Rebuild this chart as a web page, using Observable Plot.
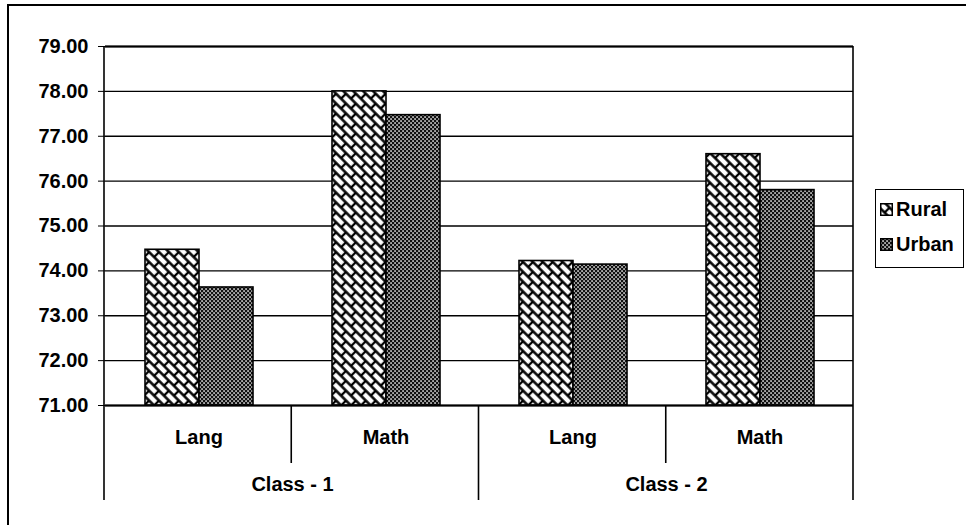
<!DOCTYPE html>
<html><head><meta charset="utf-8">
<script src="https://cdn.jsdelivr.net/npm/d3@7"></script>
<script src="https://cdn.jsdelivr.net/npm/@observablehq/plot@0.6"></script>
<style>
body{margin:0;background:#fff;}
#wrap{position:relative;width:966px;height:525px;overflow:hidden;font-family:"Liberation Sans",Arial,sans-serif;}
#wrap > svg{position:absolute;left:0;top:0;}
#border{position:absolute;left:7px;top:4px;right:-10px;bottom:-10px;border-left:2px solid #000;border-top:2px solid #000;pointer-events:none;}
#legend{position:absolute;left:875px;top:189px;width:89px;height:79px;border:1.5px solid #000;box-sizing:border-box;font-weight:bold;font-size:20px;background:#fff;}
.item{position:absolute;left:4px;height:24px;display:flex;align-items:center;gap:3px;}
.item svg{display:block;}
</style></head>
<body><div id="wrap"><div id="border"></div></div>
<script>
const subjects = ["Lang", "Math", "Lang", "Math"];
const classes = ["Class - 1", "Class - 1", "Class - 2", "Class - 2"];
const series = ["Rural", "Urban"];
const rural = [74.47, 78.00, 74.22, 76.60];
const urban = [73.63, 77.47, 74.14, 75.80];
const yTicks = [71, 72, 73, 74, 75, 76, 77, 78, 79];
const classNames = ["Class - 1", "Class - 2"];

const W = 966, H = 525, mL = 104, mR = 113, mT = 46, mB = 120;
const yMin = yTicks[0], yMax = yTicks[yTicks.length - 1];

const groupKeys = subjects.map((s, i) => classes[i] + "|" + s);
const data = [];
groupKeys.forEach((g, i) => {
  data.push({group: g, series: "Rural", value: rural[i]});
  data.push({group: g, series: "Urban", value: urban[i]});
});
const classFirst = classNames.map(c => groupKeys[classes.indexOf(c)]);

const plot = Plot.plot({
  width: W, height: H,
  marginLeft: mL, marginRight: mR, marginTop: mT, marginBottom: mB,
  style: {fontFamily: '"Liberation Sans", Arial, sans-serif', fontSize: "20px", fontWeight: "bold", color: "#000", background: "transparent", overflow: "visible"},
  fx: {domain: groupKeys, padding: 0, label: null, tickSize: 0, tickPadding: 24, tickFormat: k => k.split("|")[1]},
  x: {domain: series, paddingInner: 0, paddingOuter: 0.72, axis: null},
  y: {domain: [yMin, yMax], ticks: yTicks, tickFormat: d => d.toFixed(2), tickSize: 7, tickPadding: 10, label: null},
  color: {type: "ordinal", domain: series, range: ["url(#rural)", "url(#urban)"]},
  marks: [
    Plot.ruleY(yTicks, {stroke: "#000", strokeWidth: 1.4}),
    Plot.barY(data, {fx: "group", x: "series", y1: yMin, y2: "value", fill: "series", stroke: "#000", strokeWidth: 1.6}),
    Plot.ruleY([yMin, yMax], {stroke: "#000", strokeWidth: 2}),
    Plot.text(classNames, {fx: (d, i) => classFirst[i], frameAnchor: "bottom-right", textAnchor: "middle", dy: 85, text: d => d, fontSize: 20, fontWeight: "bold", fill: "#000"})
  ]
});

// patterns
const svg = d3.select(plot);
const defs = svg.insert("defs", ":first-child");
const pr = defs.append("pattern").attr("id", "rural").attr("patternUnits", "userSpaceOnUse")
  .attr("width", 14).attr("height", 14).attr("patternTransform", "rotate(45)");
pr.append("rect").attr("width", 14).attr("height", 14).attr("fill", "#fff");
pr.append("path").attr("d", "M-1,3.5H15M-1,10.5H15M3,3.5V10.5M10,10.5V15M10,-1V3.5")
  .attr("stroke", "#000").attr("stroke-width", 2.3).attr("fill", "none");
const pu = defs.append("pattern").attr("id", "urban").attr("patternUnits", "userSpaceOnUse")
  .attr("width", 4).attr("height", 4);
pu.append("rect").attr("width", 4).attr("height", 4).attr("fill", "#111");
pu.append("rect").attr("x", 0.3).attr("y", 0.3).attr("width", 1.5).attr("height", 1.5).attr("fill", "#fff");
pu.append("rect").attr("x", 2.3).attr("y", 2.3).attr("width", 1.5).attr("height", 1.5).attr("fill", "#fff");

// separators of the two-level category axis
const fxs = plot.scale("fx");
const band = d3.scaleBand(fxs.domain, fxs.range).padding(0);
const x0 = fxs.range[0], x1 = fxs.range[1];
const yBottom = H - mB;
const seps = svg.append("g").attr("stroke", "#000").attr("stroke-width", 1.6);
seps.append("line").attr("x1", x0).attr("x2", x0).attr("y1", mT).attr("y2", yBottom + 95);
seps.append("line").attr("x1", x1).attr("x2", x1).attr("y1", mT).attr("y2", yBottom + 95);
fxs.domain.forEach((k, i) => {
  if (i === 0) return;
  const x = band(k);
  const newClass = classes[i] !== classes[i - 1];
  seps.append("line").attr("x1", x).attr("x2", x).attr("y1", yBottom).attr("y2", yBottom + (newClass ? 95 : 58));
});

document.getElementById("wrap").prepend(plot);

// legend
const legend = document.createElement("div");
legend.id = "legend";
series.forEach((s, i) => {
  const it = document.createElement("div");
  it.className = "item";
  it.style.top = (7 + i * 35) + "px";
  it.innerHTML = `<svg width="13" height="13"><rect x="0.75" y="0.75" width="11.5" height="11.5" fill="url(#${s.toLowerCase()})" stroke="#000" stroke-width="1.5"/></svg><span>${s}</span>`;
  legend.appendChild(it);
});
document.getElementById("wrap").appendChild(legend);
</script>
</body></html>
